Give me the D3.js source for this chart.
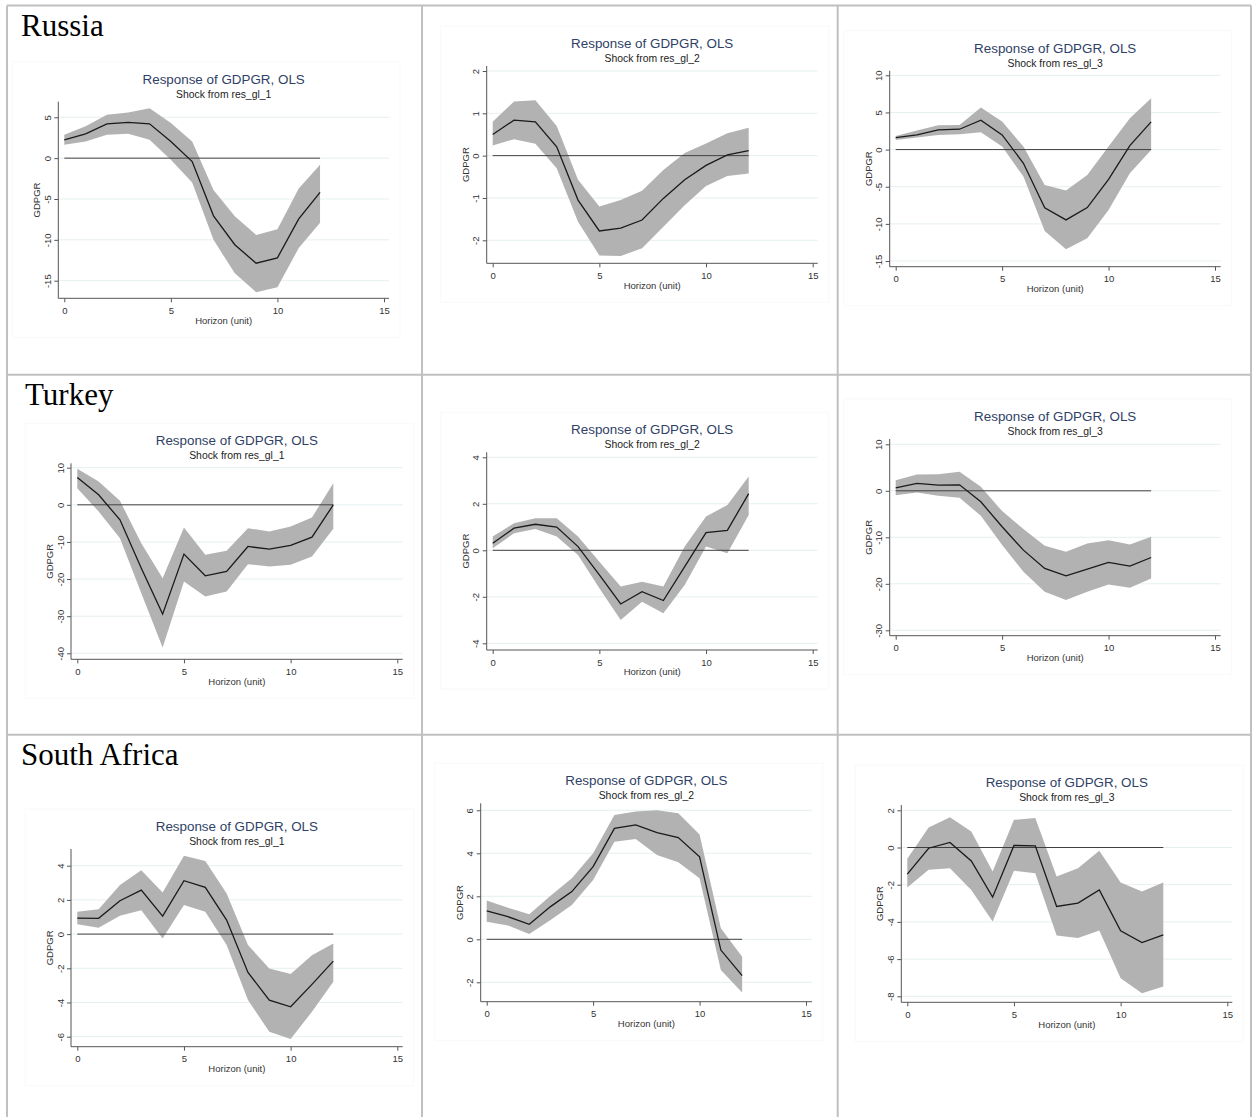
<!DOCTYPE html>
<html>
<head>
<meta charset="utf-8">
<script src="https://cdn.jsdelivr.net/npm/d3@7"></script>
<style>
  html, body { margin: 0; padding: 0; background: #fff; }
  svg { display: block; }
</style>
</head>
<body>
<svg id="chart" width="1256" height="1117"></svg>
<script>
// ---------------- DATA ----------------
const horizon = [0,1,2,3,4,5,6,7,8,9,10,11,12];
const xTicks = [0, 5, 10, 15];
const countries = ["Russia", "Turkey", "South Africa"];
const shocks = ["res_gl_1", "res_gl_2", "res_gl_3"];
const chartTitle = "Response of GDPGR, OLS";
const yTitle = "GDPGR";
const xTitle = "Horizon (unit)";

// Russia
const russia1_irf = [2.24, 2.98, 4.2, 4.37, 4.2, 2.04, -0.41, -7.06, -10.6, -12.86, -12.2, -7.43, -4.2];
const russia1_hi  = [2.86, 3.9, 5.3, 5.6, 6.1, 4.3, 2.04, -3.9, -7.1, -9.4, -8.7, -3.7, -0.8];
const russia1_lo  = [1.63, 2.04, 2.86, 2.98, 2.24, -0.2, -2.98, -10.0, -14.1, -16.4, -15.8, -11.0, -7.9];
const russia1_yTicks = [-15, -10, -5, 0, 5];

const russia2_irf = [0.50, 0.84, 0.80, 0.21, -1.05, -1.78, -1.71, -1.52, -1.01, -0.57, -0.23, 0.02, 0.12];
const russia2_hi  = [0.80, 1.28, 1.31, 0.70, -0.57, -1.2, -1.05, -0.83, -0.34, 0.06, 0.29, 0.53, 0.66];
const russia2_lo  = [0.24, 0.39, 0.28, -0.3, -1.56, -2.36, -2.37, -2.19, -1.68, -1.17, -0.72, -0.48, -0.42];
const russia2_yTicks = [-2, -1, 0, 1, 2];

const russia3_irf = [1.62, 1.97, 2.65, 2.74, 3.95, 1.97, -1.84, -7.85, -9.47, -7.81, -4.0, 0.54, 3.73];
const russia3_hi  = [1.84, 2.56, 3.28, 3.32, 5.66, 3.77, 0.4, -4.76, -5.52, -3.41, 0.4, 4.22, 6.91];
const russia3_lo  = [1.3, 1.62, 1.97, 2.06, 2.33, 0.4, -3.64, -10.95, -13.42, -11.94, -8.12, -3.19, -0.04];
const russia3_yTicks = [-15, -10, -5, 0, 5, 10];

// Turkey
const turkey1_irf = [7.36, 2.69, -4.04, -17.06, -29.44, -13.29, -19.12, -17.95, -11.22, -11.94, -10.95, -8.71, 0];
const turkey1_hi  = [9.69, 6.28, 1.08, -10.32, -19.75, -6.1, -13.46, -12.39, -6.28, -7.18, -5.83, -3.41, 5.83];
const turkey1_lo  = [4.49, -1.8, -8.98, -23.79, -38.42, -20.65, -24.69, -23.34, -15.98, -16.61, -16.16, -13.91, -6.46];
const turkey1_yTicks = [-40, -30, -20, -10, 0, 10];

const turkey2_irf = [0.30, 0.95, 1.12, 1.0, 0.16, -1.06, -2.31, -1.78, -2.16, -0.70, 0.76, 0.86, 2.44];
const turkey2_hi  = [0.59, 1.16, 1.38, 1.38, 0.59, -0.49, -1.56, -1.35, -1.56, 0.16, 1.45, 1.95, 3.17];
const turkey2_lo  = [0.09, 0.73, 0.92, 0.59, -0.2, -1.63, -3.0, -2.21, -2.71, -1.49, 0.16, -0.13, 1.52];
const turkey2_yTicks = [-4, -2, 0, 2, 4];

const turkey3_irf = [0.65, 1.58, 1.22, 1.29, -2.37, -7.74, -12.76, -16.7, -18.28, -16.85, -15.41, -16.2, -14.34];
const turkey3_hi  = [2.29, 3.51, 3.58, 4.09, 0.86, -4.37, -8.24, -11.83, -13.12, -11.33, -10.61, -11.54, -9.89];
const turkey3_lo  = [-0.93, -0.36, -1.08, -1.51, -5.38, -11.68, -17.42, -21.72, -23.51, -21.72, -20.14, -20.86, -18.85];
const turkey3_yTicks = [-30, -20, -10, 0, 10];

// South Africa
const safrica1_irf = [0.94, 0.92, 1.95, 2.57, 1.05, 3.12, 2.73, 0.82, -2.24, -3.86, -4.25, -2.94, -1.58];
const safrica1_hi  = [1.31, 1.46, 2.87, 3.74, 2.44, 4.58, 4.27, 2.38, -0.64, -2.01, -2.34, -1.23, -0.55];
const safrica1_lo  = [0.57, 0.37, 1.07, 1.4, -0.25, 1.7, 1.31, -0.64, -3.86, -5.71, -6.14, -4.54, -2.79];
const safrica1_yTicks = [-6, -4, -2, 0, 2, 4];

const safrica2_irf = [1.32, 1.05, 0.70, 1.52, 2.22, 3.38, 5.16, 5.32, 4.96, 4.73, 3.84, -0.50, -1.69];
const safrica2_hi  = [1.8, 1.47, 1.16, 2.02, 2.84, 4.0, 5.78, 5.94, 6.0, 5.86, 4.88, 0.51, -0.81];
const safrica2_lo  = [0.82, 0.64, 0.25, 0.9, 1.6, 2.76, 4.54, 4.67, 3.92, 3.58, 2.84, -1.43, -2.47];
const safrica2_yTicks = [-2, 0, 2, 4, 6];

const safrica3_irf = [-1.43, -0.04, 0.27, -0.72, -2.67, 0.11, 0.09, -3.17, -2.99, -2.28, -4.48, -5.11, -4.7];
const safrica3_hi  = [-0.61, 1.08, 1.63, 0.86, -1.29, 1.49, 1.58, -1.56, -1.11, -0.18, -1.88, -2.37, -1.88];
const safrica3_lo  = [-2.15, -1.2, -1.11, -2.28, -3.98, -1.25, -1.38, -4.73, -4.87, -4.46, -7.03, -7.83, -7.47];
const safrica3_yTicks = [-8, -6, -4, -2, 0, 2];

// ---------------- LAYOUT (pixel geometry of each panel) ----------------
const panels = [
  {irf: russia1_irf, hi: russia1_hi, lo: russia1_lo, yt: russia1_yTicks, shock: 0,
   ax: 58.3, ay: 298.3, top: 101.7, right: 389, x0: 64.3, x15: 384, yA: [5, 117.3], yB: [-15, 280.7]},
  {irf: russia2_irf, hi: russia2_hi, lo: russia2_lo, yt: russia2_yTicks, shock: 1,
   ax: 486.7, ay: 263.3, top: 66, right: 817.7, x0: 492.7, x15: 812.7, yA: [2, 71], yB: [-2, 240.3]},
  {irf: russia3_irf, hi: russia3_hi, lo: russia3_lo, yt: russia3_yTicks, shock: 2,
   ax: 889.7, ay: 266.7, top: 70.7, right: 1220.7, x0: 895.7, x15: 1215, yA: [10, 75.3], yB: [-15, 261]},
  {irf: turkey1_irf, hi: turkey1_hi, lo: turkey1_lo, yt: turkey1_yTicks, shock: 0,
   ax: 71, ay: 659.3, top: 463.3, right: 402.7, x0: 77.3, x15: 397.3, yA: [10, 467.7], yB: [-40, 653.3]},
  {irf: turkey2_irf, hi: turkey2_hi, lo: turkey2_lo, yt: turkey2_yTicks, shock: 1,
   ax: 486.7, ay: 650, top: 452.3, right: 817.7, x0: 492.7, x15: 812.7, yA: [4, 457.3], yB: [-4, 643.3]},
  {irf: turkey3_irf, hi: turkey3_hi, lo: turkey3_lo, yt: turkey3_yTicks, shock: 2,
   ax: 889.7, ay: 635.7, top: 439, right: 1220.7, x0: 895.7, x15: 1215, yA: [10, 444.3], yB: [-30, 630.3]},
  {irf: safrica1_irf, hi: safrica1_hi, lo: safrica1_lo, yt: safrica1_yTicks, shock: 0,
   ax: 71, ay: 1046.7, top: 849, right: 402.7, x0: 77.3, x15: 397.3, yA: [4, 865.7], yB: [-6, 1036.7]},
  {irf: safrica2_irf, hi: safrica2_hi, lo: safrica2_lo, yt: safrica2_yTicks, shock: 1,
   ax: 480.7, ay: 1001.7, top: 803.3, right: 812, x0: 486.7, x15: 806, yA: [6, 810.3], yB: [-2, 982.3]},
  {irf: safrica3_irf, hi: safrica3_hi, lo: safrica3_lo, yt: safrica3_yTicks, shock: 2,
   ax: 901.3, ay: 1002.3, top: 805, right: 1232.3, x0: 907.3, x15: 1227.3, yA: [2, 810.3], yB: [-8, 996.3]}
];

const countryPos = [[21, 36], [25, 405], [21, 765]];

// ---------------- DRAW ----------------
const svg = d3.select("#chart");
const sans = "'Liberation Sans', Arial, Helvetica, sans-serif";
const fmt = d => String(d);

// table grid
const grid = svg.append("g").attr("stroke", "#c0c0c0").attr("stroke-width", 2).attr("fill", "none");
[[7, 5.5, 7, 1117], [422, 5.5, 422, 1117], [837.7, 5.5, 837.7, 1117], [1251, 5.5, 1251, 1117],
 [7, 5.5, 1251, 5.5], [7, 374.7, 1251, 374.7], [7, 734.7, 1251, 734.7]].forEach(l => {
  grid.append("line").attr("x1", l[0]).attr("y1", l[1]).attr("x2", l[2]).attr("y2", l[3]);
});

// country labels
countries.forEach((c, i) => {
  svg.append("text")
    .attr("x", countryPos[i][0]).attr("y", countryPos[i][1])
    .attr("font-family", "'Liberation Serif', 'Times New Roman', serif")
    .attr("font-size", 31).attr("fill", "#000").text(c);
});

panels.forEach(p => {
  const g = svg.append("g");
  const x = d3.scaleLinear().domain([0, 15]).range([p.x0, p.x15]);
  const y = d3.scaleLinear().domain([p.yA[0], p.yB[0]]).range([p.yA[1], p.yB[1]]);
  const cx = (p.ax + p.right) / 2;

  // very faint graph region outline
  g.append("rect")
    .attr("x", p.ax - 46).attr("y", p.top - 40)
    .attr("width", (p.right + 11) - (p.ax - 46)).attr("height", (p.ay + 39) - (p.top - 40))
    .attr("fill", "none").attr("stroke", "#f9f9f9").attr("stroke-width", 1);

  // gridlines
  g.selectAll(".gl").data(p.yt).enter().append("line")
    .attr("x1", p.ax).attr("x2", p.right)
    .attr("y1", d => y(d)).attr("y2", d => y(d))
    .attr("stroke", "#e6eff0").attr("stroke-width", 1);

  // confidence band
  const area = d3.area()
    .x((d, i) => x(horizon[i]))
    .y0((d, i) => y(p.lo[i]))
    .y1((d, i) => y(p.hi[i]));
  g.append("path").datum(p.irf).attr("d", area).attr("fill", "#b2b2b2");

  // zero line
  g.append("line")
    .attr("x1", x(horizon[0])).attr("x2", x(horizon[horizon.length - 1]))
    .attr("y1", y(0)).attr("y2", y(0))
    .attr("stroke", "#404040").attr("stroke-width", 1);

  // IRF line
  const line = d3.line().x((d, i) => x(horizon[i])).y(d => y(d));
  g.append("path").datum(p.irf).attr("d", line)
    .attr("fill", "none").attr("stroke", "#1a1a1a").attr("stroke-width", 1.3);

  // y axis
  const yAxis = d3.axisLeft(y).tickValues(p.yt).tickSize(4).tickFormat(fmt);
  const ya = g.append("g").attr("transform", `translate(${p.ax},0)`).call(yAxis);
  ya.select(".domain").remove();
  ya.selectAll(".tick line").attr("stroke", "#555");
  ya.selectAll(".tick text")
    .attr("x", 0).attr("y", 0).attr("dy", null)
    .attr("text-anchor", "middle")
    .attr("dominant-baseline", "central")
    .attr("transform", "translate(-11,0) rotate(-90)")
    .attr("font-family", sans).attr("font-size", 9.5).attr("fill", "#333");
  g.append("line").attr("x1", p.ax).attr("x2", p.ax).attr("y1", p.top).attr("y2", p.ay)
    .attr("stroke", "#555").attr("stroke-width", 1);

  // x axis
  const xAxis = d3.axisBottom(x).tickValues(xTicks).tickSize(4).tickFormat(fmt);
  const xa = g.append("g").attr("transform", `translate(0,${p.ay})`).call(xAxis);
  xa.select(".domain").remove();
  xa.selectAll(".tick line").attr("stroke", "#555");
  xa.selectAll(".tick text")
    .attr("y", 12).attr("dy", null).attr("dominant-baseline", "central")
    .attr("font-family", sans).attr("font-size", 9.5).attr("fill", "#333");
  g.append("line").attr("x1", p.ax).attr("x2", p.right).attr("y1", p.ay).attr("y2", p.ay)
    .attr("stroke", "#555").attr("stroke-width", 1);

  // axis titles
  g.append("text")
    .attr("transform", `translate(${p.ax - 21.5},${(p.top + p.ay) / 2}) rotate(-90)`)
    .attr("text-anchor", "middle").attr("dominant-baseline", "central")
    .attr("font-family", sans).attr("font-size", 9.5).attr("fill", "#333").text(yTitle);
  g.append("text")
    .attr("x", cx).attr("y", p.ay + 21.7)
    .attr("text-anchor", "middle").attr("dominant-baseline", "central")
    .attr("font-family", sans).attr("font-size", 9.5).attr("fill", "#333").text(xTitle);

  // titles
  g.append("text")
    .attr("x", cx).attr("y", p.top - 22.7)
    .attr("text-anchor", "middle").attr("dominant-baseline", "central")
    .attr("font-family", sans).attr("font-size", 13.4).attr("fill", "#2f3f66").text(chartTitle);
  g.append("text")
    .attr("x", cx).attr("y", p.top - 7.4)
    .attr("text-anchor", "middle").attr("dominant-baseline", "central")
    .attr("font-family", sans).attr("font-size", 10.4).attr("fill", "#222").text("Shock from " + shocks[p.shock]);
});
</script>
</body>
</html>
